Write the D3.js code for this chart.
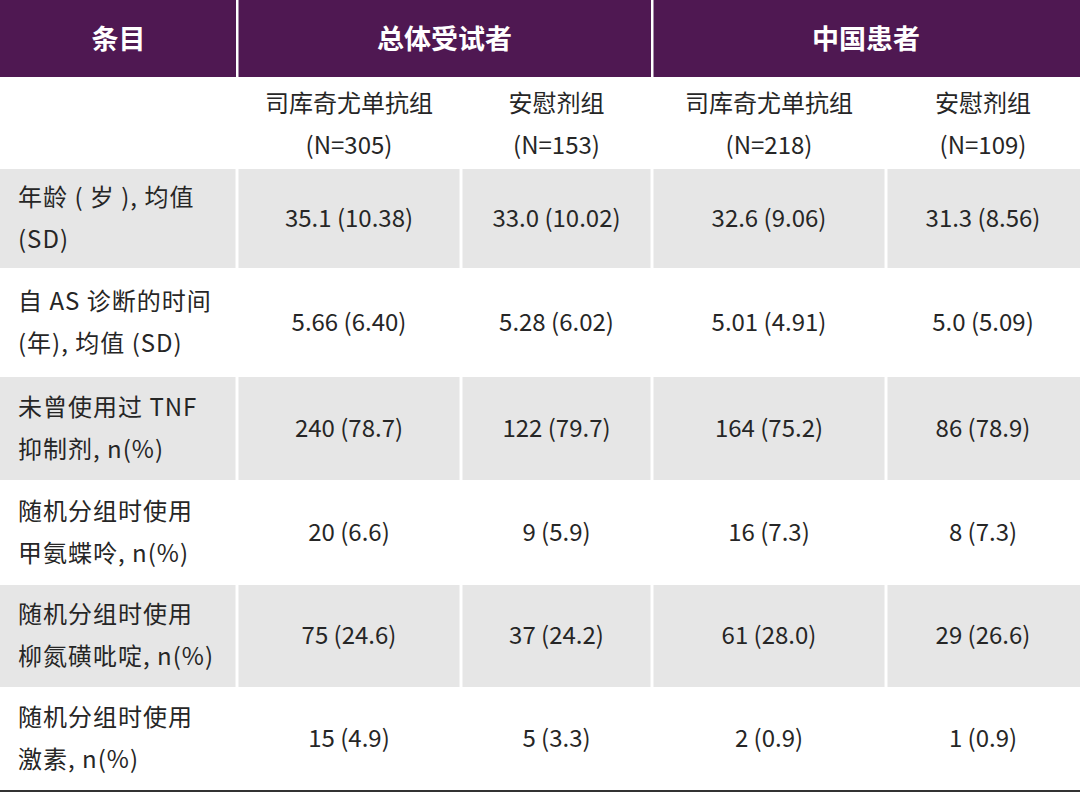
<!DOCTYPE html>
<html><head><meta charset="utf-8">
<script src="https://cdn.jsdelivr.net/npm/d3@7"></script>
<style>body{margin:0;background:#fff}</style>
</head><body><svg id="t" width="1080" height="793"></svg>
<script>
const groups = ["总体受试者", "中国患者"];
const arms = [["司库奇尤单抗组", "(N=305)"], ["安慰剂组", "(N=153)"], ["司库奇尤单抗组", "(N=218)"], ["安慰剂组", "(N=109)"]];
const rowLabels = [
  ["年龄 ( 岁 ),  均值", "(SD)"],
  ["自 AS 诊断的时间", "(年),  均值  (SD)"],
  ["未曾使用过 TNF", "抑制剂, n(%)"],
  ["随机分组时使用", "甲氨蝶呤, n(%)"],
  ["随机分组时使用", "柳氮磺吡啶, n(%)"],
  ["随机分组时使用", "激素, n(%)"]
];
const values = [
  ["35.1 (10.38)", "33.0 (10.02)", "32.6 (9.06)", "31.3 (8.56)"],
  ["5.66 (6.40)", "5.28 (6.02)", "5.01 (4.91)", "5.0 (5.09)"],
  ["240 (78.7)", "122 (79.7)", "164 (75.2)", "86 (78.9)"],
  ["20 (6.6)", "9 (5.9)", "16 (7.3)", "8 (7.3)"],
  ["75 (24.6)", "37 (24.2)", "61 (28.0)", "29 (26.6)"],
  ["15 (4.9)", "5 (3.3)", "2 (0.9)", "1 (0.9)"]
];

const svg = d3.select("#t");
const font = "'Noto Sans CJK SC', 'Open Sans', sans-serif";
const colEdges = [0, 237, 461, 652, 886, 1080];
const rowEdges = [168, 269, 376, 481, 584, 688, 790];
const purple = "#4f1852", gray = "#e6e6e6", ink = "#262626";

// header
svg.append("rect").attr("x", 0).attr("y", 0).attr("width", 1080).attr("height", 77).attr("fill", purple);
[237, 652].forEach(x => svg.append("rect").attr("x", x - 1).attr("y", 0).attr("width", 2.5).attr("height", 77).attr("fill", "#fff"));
const hdr = [["条目", 0, 237], [groups[0], 237, 652], [groups[1], 652, 1080]];
svg.selectAll("text.h").data(hdr).join("text").attr("class", "h")
  .attr("x", d => (d[1] + d[2]) / 2).attr("y", 40).attr("dy", "0.35em")
  .attr("text-anchor", "middle").attr("fill", "#fff").attr("font-family", font)
  .attr("font-weight", "bold").attr("font-size", 27).text(d => d[0]);

// sub header
arms.forEach((a, i) => {
  const cx = (colEdges[i + 1] + colEdges[i + 2]) / 2;
  a.forEach((s, j) => svg.append("text").attr("x", cx).attr("y", 104 + j * 42).attr("dy", "0.35em")
    .attr("text-anchor", "middle").attr("fill", ink).attr("font-family", font).attr("font-size", 24).text(s));
});

// body
rowLabels.forEach((lab, r) => {
  const y0 = rowEdges[r], y1 = rowEdges[r + 1], cy = (y0 + y1) / 2;
  if (r % 2 === 0) {
    for (let c = 0; c < 5; c++) {
      svg.append("rect").attr("x", colEdges[c] + (c ? 1.5 : 0)).attr("y", y0 + 1)
        .attr("width", colEdges[c + 1] - colEdges[c] - (c ? 1.5 : 0) - (c < 4 ? 1.5 : 0))
        .attr("height", y1 - y0 - 2).attr("fill", gray);
    }
  }
  lab.forEach((s, j) => svg.append("text").attr("x", 18).attr("y", cy - 21 + j * 42).attr("dy", "0.35em")
    .attr("fill", ink).attr("font-family", font).attr("font-size", 24).attr("letter-spacing", 1).text(s));
  values[r].forEach((v, c) => svg.append("text").attr("x", (colEdges[c + 1] + colEdges[c + 2]) / 2)
    .attr("y", cy).attr("dy", "0.35em").attr("text-anchor", "middle").attr("fill", ink)
    .attr("font-family", font).attr("font-size", 24).text(v));
});
svg.append("line").attr("x1", 0).attr("x2", 1080).attr("y1", 791).attr("y2", 791).attr("stroke", "#333").attr("stroke-width", 2);
</script></body></html>
